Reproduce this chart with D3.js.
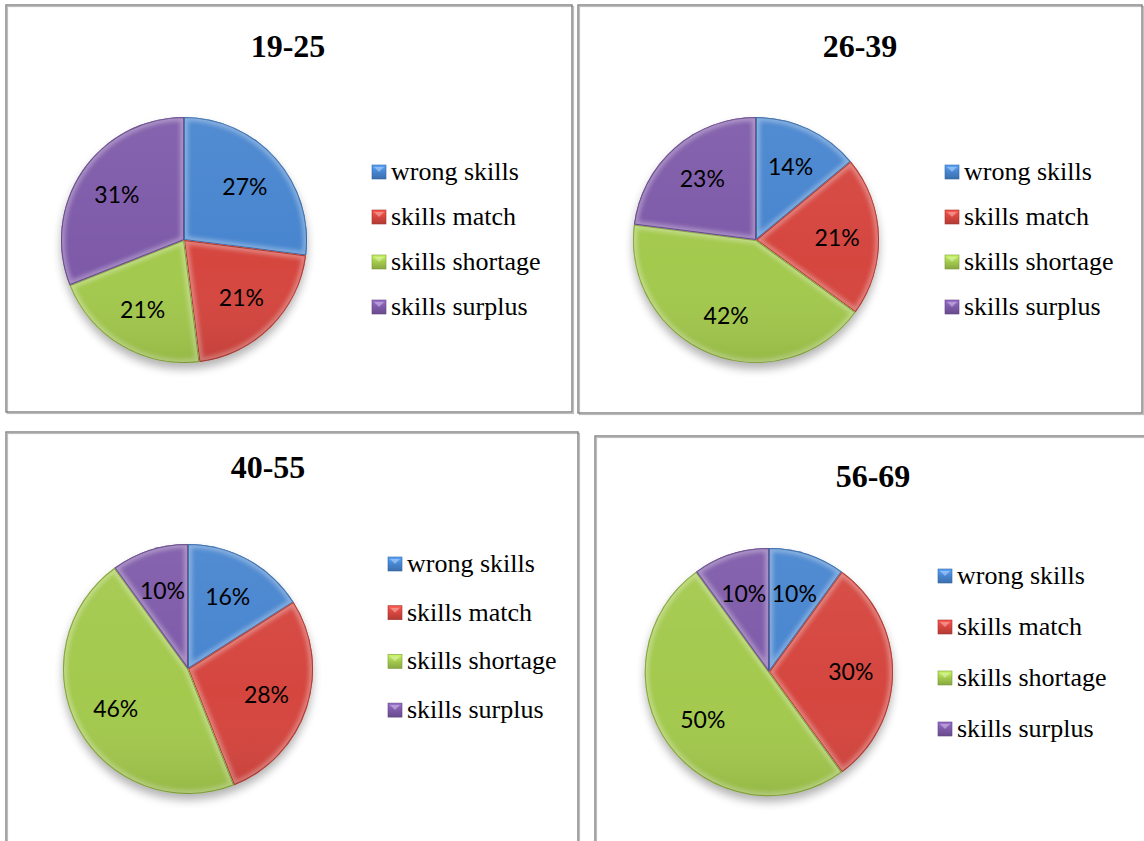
<!DOCTYPE html>
<html>
<head>
<meta charset="utf-8">
<script src="https://cdn.jsdelivr.net/npm/d3@7"></script>
<style>
  html, body { margin: 0; padding: 0; background: #fff; }
  svg { display: block; }
</style>
</head>
<body>
<svg id="chart" width="1144" height="841"></svg>
<script>
// Age groups, one pie per group
const groups = ["19-25", "26-39", "40-55", "56-69"];
const categories = ["wrong skills", "skills match", "skills shortage", "skills surplus"];

// Share (%) of each skills status per age group
const wrongSkills    = [27, 14, 16, 10];
const skillsMatch    = [21, 21, 28, 30];
const skillsShortage = [21, 42, 46, 50];
const skillsSurplus  = [31, 23, 10, 10];

const colors = ["#4785cf", "#d5463f", "#a3c94d", "#7e5aa9"];

// Panel layout: frame, pie centre/radius, title, legend
const layout = [
  { box: [6, 5, 566, 407],   cx: 184, cy: 240, r: 123, tx: 288, ty: 57,  lx: 372, ly: 172, ls: 45 },
  { box: [578, 5, 564, 408], cx: 756, cy: 240, r: 123, tx: 860, ty: 57,  lx: 945, ly: 172, ls: 45 },
  { box: [6, 432, 572, 430], cx: 188, cy: 669, r: 125, tx: 268, ty: 478, lx: 388, ly: 564, ls: 48.7 },
  { box: [595, 436, 570, 430], cx: 769, cy: 672, r: 124, tx: 873, ty: 487, lx: 938, ly: 576, ls: 51 }
];

const svg = d3.select("#chart");
const defs = svg.append("defs");

defs.append("filter").attr("id", "soft").attr("x", "-20%").attr("y", "-20%").attr("width", "140%").attr("height", "140%")
  .append("feGaussianBlur").attr("stdDeviation", 2.2);
defs.append("filter").attr("id", "shadow").attr("x", "-30%").attr("y", "-30%").attr("width", "160%").attr("height", "160%")
  .append("feGaussianBlur").attr("stdDeviation", 5);

// vertical shading over each pie: light top, darker bottom
const shade = defs.append("linearGradient").attr("id", "shade").attr("x1", 0).attr("y1", 0).attr("x2", 0).attr("y2", 1);
shade.append("stop").attr("offset", "0%").attr("stop-color", "#fff").attr("stop-opacity", 0.06);
shade.append("stop").attr("offset", "60%").attr("stop-color", "#fff").attr("stop-opacity", 0);
shade.append("stop").attr("offset", "100%").attr("stop-color", "#000").attr("stop-opacity", 0.08);

// legend marker gradients
colors.forEach((c, i) => {
  const g = defs.append("linearGradient").attr("id", "mk" + i).attr("x1", 0).attr("y1", 0).attr("x2", 0).attr("y2", 1);
  g.append("stop").attr("offset", "0%").attr("stop-color", d3.color(c).brighter(0.6));
  g.append("stop").attr("offset", "50%").attr("stop-color", c);
  g.append("stop").attr("offset", "100%").attr("stop-color", d3.color(c).darker(0.5));
});

const pie = d3.pie().sort(null).value(d => d);

groups.forEach((name, gi) => {
  const L = layout[gi];
  const values = [wrongSkills[gi], skillsMatch[gi], skillsShortage[gi], skillsSurplus[gi]];
  const arcs = pie(values);
  const arc = d3.arc().innerRadius(0).outerRadius(L.r);
  const labelArc = d3.arc().innerRadius(L.r * 0.66).outerRadius(L.r * 0.66);

  // frame
  svg.append("rect")
    .attr("x", L.box[0] + 0.5).attr("y", L.box[1] + 0.5)
    .attr("width", L.box[2]).attr("height", L.box[3])
    .attr("fill", "none").attr("stroke", "#bdbdbd").attr("stroke-width", 1.2)
    .attr("transform", "translate(1,1)");
  svg.append("rect")
    .attr("x", L.box[0]).attr("y", L.box[1])
    .attr("width", L.box[2]).attr("height", L.box[3])
    .attr("fill", "none").attr("stroke", "#808080").attr("stroke-width", 1.4);

  // title
  svg.append("text")
    .attr("x", L.tx).attr("y", L.ty)
    .attr("text-anchor", "middle")
    .style("font-family", "'Liberation Serif', 'Times New Roman', serif")
    .style("font-weight", "bold").style("font-size", "32px")
    .text(name);

  const g = svg.append("g").attr("transform", `translate(${L.cx},${L.cy})`);

  // drop shadow beneath the pie
  g.append("circle").attr("cx", 0).attr("cy", 6).attr("r", L.r)
    .attr("fill", "#000").attr("opacity", 0.3).attr("filter", "url(#shadow)");

  arcs.forEach((a, i) => {
    const id = `clip${gi}_${i}`;
    defs.append("clipPath").attr("id", id)
      .attr("transform", `translate(${L.cx},${L.cy})`)
      .append("path").attr("d", arc(a));
    const base = colors[i];
    g.append("path").attr("d", arc(a)).attr("fill", base);
    // bevel highlight along the slice edges
    const sg = g.append("g").attr("clip-path", `url(#${id})`)
      .attr("transform", `translate(${-L.cx},${-L.cy})`);
    sg.append("path").attr("d", arc(a))
      .attr("transform", `translate(${L.cx},${L.cy})`)
      .attr("fill", "none")
      .attr("stroke", d3.interpolateRgb(base, "#ffffff")(0.4))
      .attr("stroke-width", 8).attr("stroke-linejoin", "round")
      .attr("filter", "url(#soft)").attr("opacity", 0.8);
    sg.append("path").attr("d", arc(a))
      .attr("transform", `translate(${L.cx},${L.cy})`)
      .attr("fill", "none")
      .attr("stroke", d3.color(base).darker(0.6))
      .attr("stroke-width", 2);
  });

  // overall light/shade
  g.append("circle").attr("r", L.r).attr("fill", "url(#shade)");

  // percentage labels
  g.selectAll("text.pct").data(arcs).enter().append("text")
    .attr("class", "pct")
    .attr("transform", d => `translate(${labelArc.centroid(d)})`)
    .attr("text-anchor", "middle").attr("dy", "0.36em")
    .style("font-family", "Lato, 'Open Sans', sans-serif")
    .style("font-size", "23px").attr("fill", "#000")
    .text(d => d.data + "%");

  // legend
  categories.forEach((c, i) => {
    const y = L.ly + i * L.ls;
    svg.append("rect").attr("x", L.lx).attr("y", y - 7).attr("width", 14).attr("height", 14)
      .attr("fill", `url(#mk${i})`).attr("stroke", d3.color(colors[i]).darker(0.8)).attr("stroke-width", 0.6);
    svg.append("path")
      .attr("d", `M${L.lx + 2},${y - 5}L${L.lx + 12},${y - 5}L${L.lx + 7},${y}Z`)
      .attr("fill", "#fff").attr("opacity", 0.35);
    svg.append("text").attr("x", L.lx + 19).attr("y", y + 8)
      .style("font-family", "'Liberation Serif', 'Times New Roman', serif")
      .style("font-size", "26px").attr("fill", "#000")
      .text(c);
  });
});
</script>
</body>
</html>
